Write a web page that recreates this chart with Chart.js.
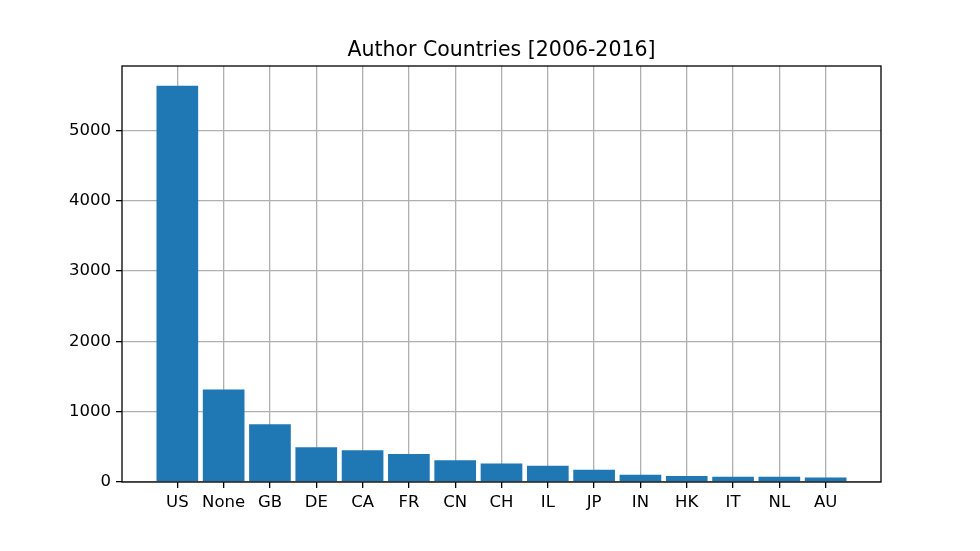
<!DOCTYPE html>
<html><head><meta charset="utf-8">
<script src="https://cdn.jsdelivr.net/npm/chart.js@4"></script>
<style>html,body{margin:0;padding:0;background:#fff;}canvas{display:block;}</style>
</head><body>
<canvas id="c" width="980" height="551"></canvas>
<script>
const categories = ['US','None','GB','DE','CA','FR','CN','CH','IL','JP','IN','HK','IT','NL','AU'];
const counts = [5635,1315,821,494,451,398,309,262,232,175,104,85,75,75,65];
const yTicks = [0,1000,2000,3000,4000,5000];
const titleText = 'Author Countries [2006-2016]';

const FONT = 'DejaVu Sans';
const framePlugin = {
  id: 'frame',
  afterDraw(chart) {
    const a = chart.chartArea, ctx = chart.ctx;
    ctx.save();
    ctx.strokeStyle = '#000';
    ctx.lineWidth = 1.3;
    ctx.strokeRect(a.left, a.top, a.right - a.left, a.bottom - a.top);
    ctx.restore();
  }
};

new Chart(document.getElementById('c'), {
  type: 'bar',
  data: {
    datasets: [{
      data: categories.map((c, i) => ({x: i, y: counts[i]})),
      backgroundColor: '#1f77b4',
      borderWidth: 0,
      categoryPercentage: 0.9,
      barPercentage: 1.0
    }]
  },
  options: {
    responsive: false,
    animation: false,
    devicePixelRatio: 1,
    layout: {padding: {left: 23, right: 0, top: 0, bottom: 0}},
    plugins: {
      legend: {display: false},
      tooltip: {enabled: false},
      title: {
        display: true, text: titleText, color: '#000',
        font: {family: FONT, size: 20.5, weight: 'normal', lineHeight: 1.0},
        padding: {top: 40.5, bottom: 5}
      }
    },
    scales: {
      x: {
        type: 'linear', offset: false, z: 1,
        min: -1.195, max: categories.length - 1 + 1.195,
        afterBuildTicks: s => { s.ticks = categories.map((c, i) => ({value: i})); },
        afterFit: s => { s.height = 69; },
        ticks: {
          autoSkip: false, maxRotation: 0, padding: 5, color: '#000',
          font: {family: FONT, size: 16.5},
          callback: v => categories[v]
        },
        grid: {offset: false, color: '#b0b0b0', lineWidth: 1.3, tickColor: '#000', tickLength: 6, tickWidth: 1.3},
        border: {display: false}
      },
      y: {
        min: 0, max: 5917, z: 1,
        afterBuildTicks: s => { s.ticks = yTicks.map(v => ({value: v})); },
        afterFit: s => { s.width = 99; },
        ticks: {padding: 5, color: '#000', font: {family: FONT, size: 16.5}, callback: v => String(v)},
        grid: {color: '#b0b0b0', lineWidth: 1.3, tickColor: '#000', tickLength: 6, tickWidth: 1.3},
        border: {display: false}
      },
      yRightSpace: {
        type: 'linear', position: 'right', display: true,
        afterFit: s => { s.width = 99; },
        ticks: {display: false},
        grid: {display: false, drawTicks: false},
        border: {display: false}
      }
    }
  },
  plugins: [framePlugin]
});
</script>
</body></html>
